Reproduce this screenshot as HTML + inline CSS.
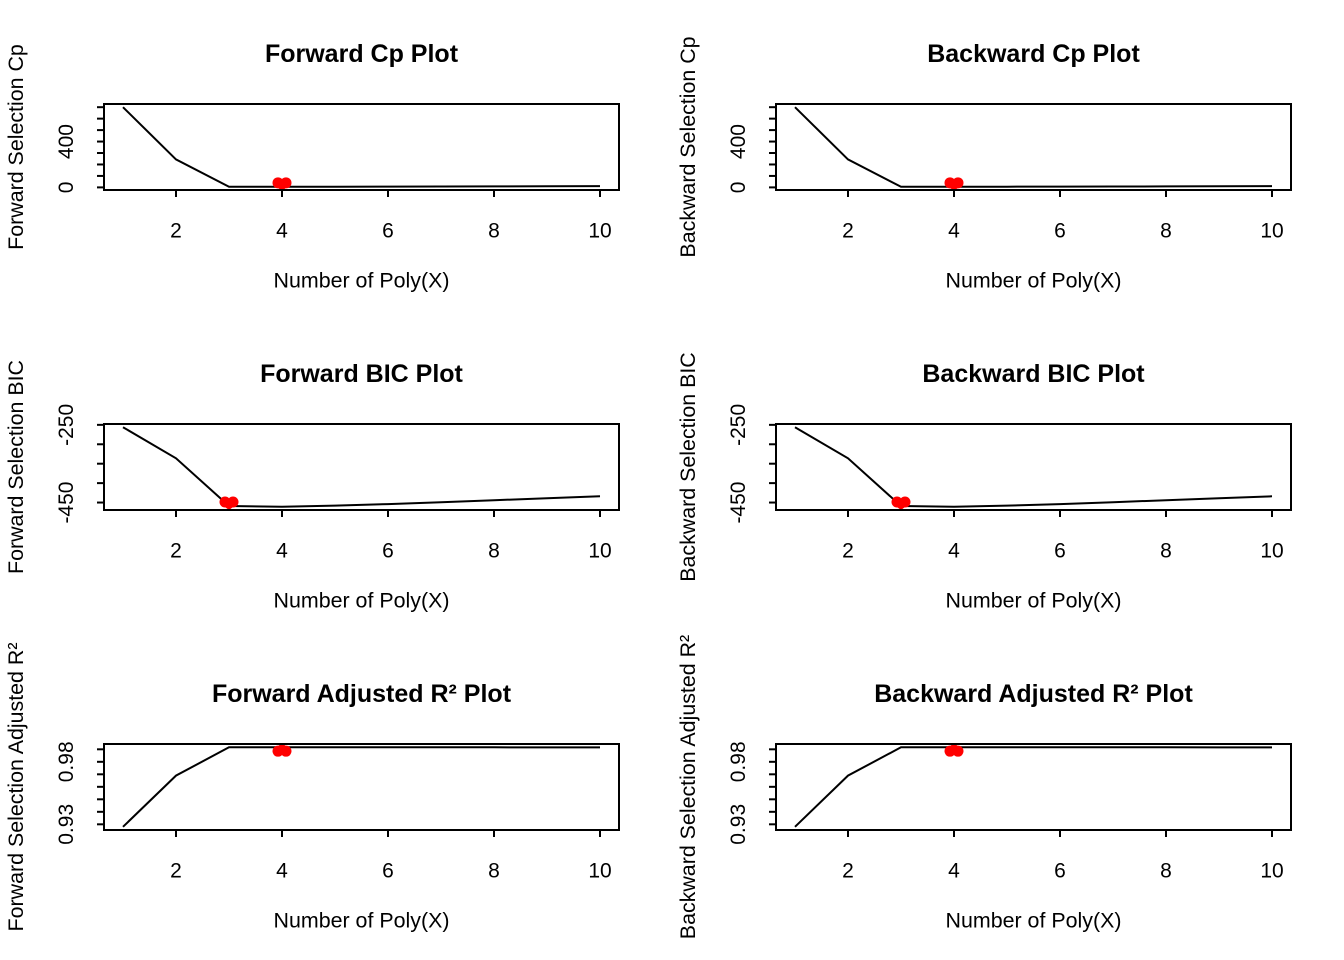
<!DOCTYPE html>
<html><head><meta charset="utf-8"><style>
html,body{margin:0;padding:0;background:#fff}
svg{display:block;font-family:"Liberation Sans",Arial,sans-serif}
</style></head><body>
<svg id="chart" width="1344" height="960" viewBox="0 0 1344 960" xmlns="http://www.w3.org/2000/svg"></svg>
<script>
// ---- data ----
const xValues = [1,2,3,4,5,6,7,8,9,10];
const cpValues = [700,244,5,5,6,7,8,9,10,11];
const bicValues = [-256,-336,-459,-461,-458,-454,-449,-444,-439,-434];
const r2Values = [0.928,0.969,0.9916,0.9917,0.9917,0.9917,0.9916,0.9916,0.9915,0.9915];
const xTicks = [2,4,6,8,10];
const cpTicks = [0,100,200,300,400,500,600,700];
const cpTickLabels = ["0","","","","400","","",""];
const bicTicks = [-250,-300,-350,-400,-450];
const bicTickLabels = ["-250","","","","-450"];
const r2Ticks = [0.93,0.94,0.95,0.96,0.97,0.98,0.99];
const r2TickLabels = ["0.93","","","","","0.98",""];
const cpBest = 4, bicBest = 3, r2Best = 4;

const NS = "http://www.w3.org/2000/svg";
const svg = document.getElementById('chart');
function mk(tag, attrs, parent){
  const e = document.createElementNS(NS, tag);
  for (const k in attrs) e.setAttribute(k, attrs[k]);
  (parent||svg).appendChild(e);
  return e;
}

const panels = [
  {id:'forward-cp', title:'Forward Cp Plot', ylab:'Forward Selection Cp', vals:cpValues, ticks:cpTicks, tl:cpTickLabels, best:cpBest, col:0, row:0, dir:-1},
  {id:'backward-cp', title:'Backward Cp Plot', ylab:'Backward Selection Cp', vals:cpValues, ticks:cpTicks, tl:cpTickLabels, best:cpBest, col:1, row:0, dir:-1},
  {id:'forward-bic', title:'Forward BIC Plot', ylab:'Forward Selection BIC', vals:bicValues, ticks:bicTicks, tl:bicTickLabels, best:bicBest, col:0, row:1, dir:-1},
  {id:'backward-bic', title:'Backward BIC Plot', ylab:'Backward Selection BIC', vals:bicValues, ticks:bicTicks, tl:bicTickLabels, best:bicBest, col:1, row:1, dir:-1},
  {id:'forward-adjr2', title:'Forward Adjusted R² Plot', ylab:'Forward Selection Adjusted R²', vals:r2Values, ticks:r2Ticks, tl:r2TickLabels, best:r2Best, col:0, row:2, dir:1},
  {id:'backward-adjr2', title:'Backward Adjusted R² Plot', ylab:'Backward Selection Adjusted R²', vals:r2Values, ticks:r2Ticks, tl:r2TickLabels, best:r2Best, col:1, row:2, dir:1},
];

panels.forEach(p => {
  const ox = p.col*672, oy = p.row*320;
  const L = 104+ox, R = 619+ox, T = 104+oy, B = 190+oy;
  const g = mk('g', {});
  
  
  const xmin = Math.min(...xValues), xmax = Math.max(...xValues);
  const xs = v => L + 19 + (v - xmin) / (xmax - xmin) * (R - L - 38);
  const ymin = Math.min(...p.vals), ymax = Math.max(...p.vals);
  const pad = (ymax - ymin) * 0.04;
  const ys = v => B - (v - (ymin - pad)) / ((ymax + pad) - (ymin - pad)) * (B - T);

  const t = mk('text', {x:(L+R)/2, y:62+oy, 'text-anchor':'middle', 'font-size':25, 'font-weight':'bold', fill:'#000'}, g);
  t.textContent = p.title;
  
  

  const pts = xValues.map((x,i) => xs(x).toFixed(1)+','+ys(p.vals[i]).toFixed(1)).join(' ');
  const line = mk('polyline', {points:pts, fill:'none', stroke:'#000', 'stroke-width':2}, g);
  
  

  const bi = xValues.indexOf(p.best);
  const bx = xs(p.best), by = ys(p.vals[bi]);
  const d = p.dir;
  const mg = mk('g', {fill:'#ff0000'}, g);
  
  
  mk('circle', {cx:bx-4, cy:by+4*d, r:5.5}, mg);
  mk('circle', {cx:bx+4, cy:by+4*d, r:5.5}, mg);
  mk('polygon', {points:`${bx-8},${by+2*d} ${bx+8},${by+2*d} ${bx},${by-4*d}`}, mg);

  const box = mk('rect', {x:L, y:T, width:R-L, height:B-T, fill:'none', stroke:'#000', 'stroke-width':2}, g);
  
  

  const xa = mk('g', {}, g);
  
  
  mk('line', {x1:xs(xTicks[0]), x2:xs(xTicks[xTicks.length-1]), y1:B, y2:B, stroke:'#000', 'stroke-width':2}, xa);
  xTicks.forEach(v => {
    mk('line', {x1:xs(v), x2:xs(v), y1:B, y2:B+7, stroke:'#000', 'stroke-width':2}, xa);
    const tx = mk('text', {x:xs(v), y:B+47.5, 'text-anchor':'middle', 'font-size':21}, xa);
    tx.textContent = String(v);
  });
  const xt = mk('text', {x:(L+R)/2, y:287.7+oy, 'text-anchor':'middle', 'font-size':21.4}, g);
  xt.textContent = 'Number of Poly(X)';
  
  

  const ya = mk('g', {}, g);
  
  
  const yt0 = ys(Math.min(...p.ticks)), yt1 = ys(Math.max(...p.ticks));
  mk('line', {x1:L, x2:L, y1:yt0, y2:yt1, stroke:'#000', 'stroke-width':2}, ya);
  p.ticks.forEach((v,i) => {
    const yy = ys(v);
    mk('line', {x1:L-7, x2:L, y1:yy, y2:yy, stroke:'#000', 'stroke-width':2}, ya);
    if (p.tl[i]) {
      const tx = mk('text', {x:73+ox, y:yy, 'text-anchor':'middle', 'font-size':21, transform:`rotate(-90 ${73+ox} ${yy})`}, ya);
      tx.textContent = p.tl[i];
    }
  });
  const yl = mk('text', {x:23+ox, y:(T+B)/2, 'text-anchor':'middle', 'font-size':21.4, transform:`rotate(-90 ${23+ox} ${(T+B)/2})`}, g);
  yl.textContent = p.ylab;
  
  
});
</script>
</body></html>
